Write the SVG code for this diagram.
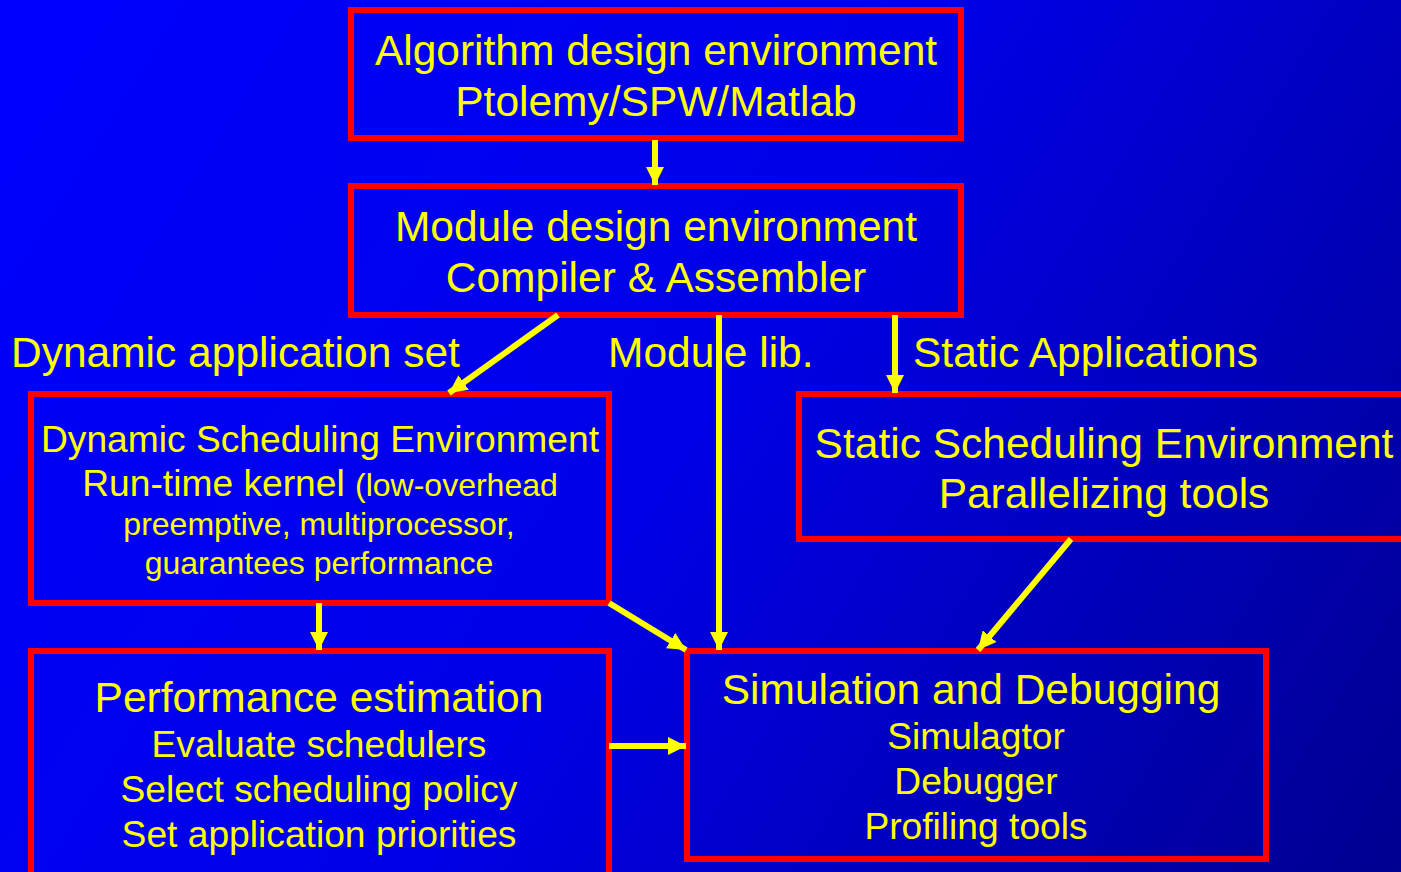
<svg xmlns="http://www.w3.org/2000/svg" width="1401" height="872" viewBox="0 0 1401 872">
<defs>
<linearGradient id="bg" x1="0" y1="0" x2="1401" y2="872" gradientUnits="userSpaceOnUse">
<stop offset="0" stop-color="#0000ff"/>
<stop offset="0.5" stop-color="#0000e6"/>
<stop offset="1" stop-color="#000090"/>
</linearGradient>
<marker id="ah" viewBox="0 0 18 18" refX="18" refY="9" markerWidth="18" markerHeight="18" markerUnits="userSpaceOnUse" orient="auto">
<path d="M0,0 L18,9 L0,18 z" fill="#ffff00"/>
</marker>
<style>
.box{fill:none;stroke:#ff0000;stroke-width:6}
.t{font-family:"Liberation Sans",Arial,sans-serif;fill:#ffff00;text-anchor:middle}
.l{font-size:42.5px}
.m{font-size:37.2px}
.s{font-size:32px}
.c{stroke:#ffff00;stroke-width:6;fill:none;marker-end:url(#ah)}
</style>
</defs>
<rect width="1401" height="872" fill="url(#bg)"/>
<g id="n1">
<rect class="box" x="351" y="10" width="610" height="128"/>
<text class="t l" x="656" y="65">Algorithm design environment</text>
<text class="t l" x="656" y="116">Ptolemy/SPW/Matlab</text>
</g>
<g id="n2">
<rect class="box" x="351" y="186" width="610" height="129"/>
<text class="t l" x="656" y="241">Module design environment</text>
<text class="t l" x="656" y="292">Compiler &amp; Assembler</text>
</g>
<g id="n3">
<rect class="box" x="31" y="394" width="578" height="209"/>
<text class="t m" x="320" y="452">Dynamic Scheduling Environment</text>
<text class="t" x="320" y="496"><tspan class="m">Run-time kernel </tspan><tspan class="s">(low-overhead</tspan></text>
<text class="t s" x="319" y="535">preemptive, multiprocessor,</text>
<text class="t s" x="319" y="574">guarantees performance</text>
</g>
<g id="n4">
<rect class="box" x="799" y="394" width="610" height="145"/>
<text class="t l" x="1104" y="458">Static Scheduling Environment</text>
<text class="t l" x="1104" y="508">Parallelizing tools</text>
</g>
<g id="n5">
<rect class="box" x="31" y="651" width="578" height="240"/>
<text class="t l" x="319" y="712">Performance estimation</text>
<text class="t m" x="319" y="757">Evaluate schedulers</text>
<text class="t m" x="319" y="802">Select scheduling policy</text>
<text class="t m" x="319" y="847">Set application priorities</text>
</g>
<g id="n6">
<rect class="box" x="687" y="651" width="579" height="208"/>
<text class="t l" x="971" y="704">Simulation and Debugging</text>
<text class="t m" x="976" y="749">Simulagtor</text>
<text class="t m" x="976" y="794">Debugger</text>
<text class="t m" x="976" y="839">Profiling tools</text>
</g>
<g id="labels">
<text class="t l" x="11" y="367" style="text-anchor:start">Dynamic application set</text>
<text class="t l" x="608" y="367" style="text-anchor:start">Module lib.</text>
<text class="t l" x="913" y="367" style="text-anchor:start">Static Applications</text>
</g>
<g id="connectors">
<line class="c" x1="655" y1="140" x2="655" y2="185"/>
<line class="c" x1="558" y1="315" x2="449" y2="393"/>
<line class="c" x1="719" y1="315" x2="719" y2="650"/>
<line class="c" x1="895" y1="315" x2="895" y2="393"/>
<line class="c" x1="609" y1="603" x2="686" y2="650"/>
<line class="c" x1="319" y1="603" x2="319" y2="650"/>
<line class="c" x1="1071" y1="539" x2="978" y2="650"/>
<line class="c" x1="609" y1="746" x2="686" y2="746"/>
</g>
</svg>
